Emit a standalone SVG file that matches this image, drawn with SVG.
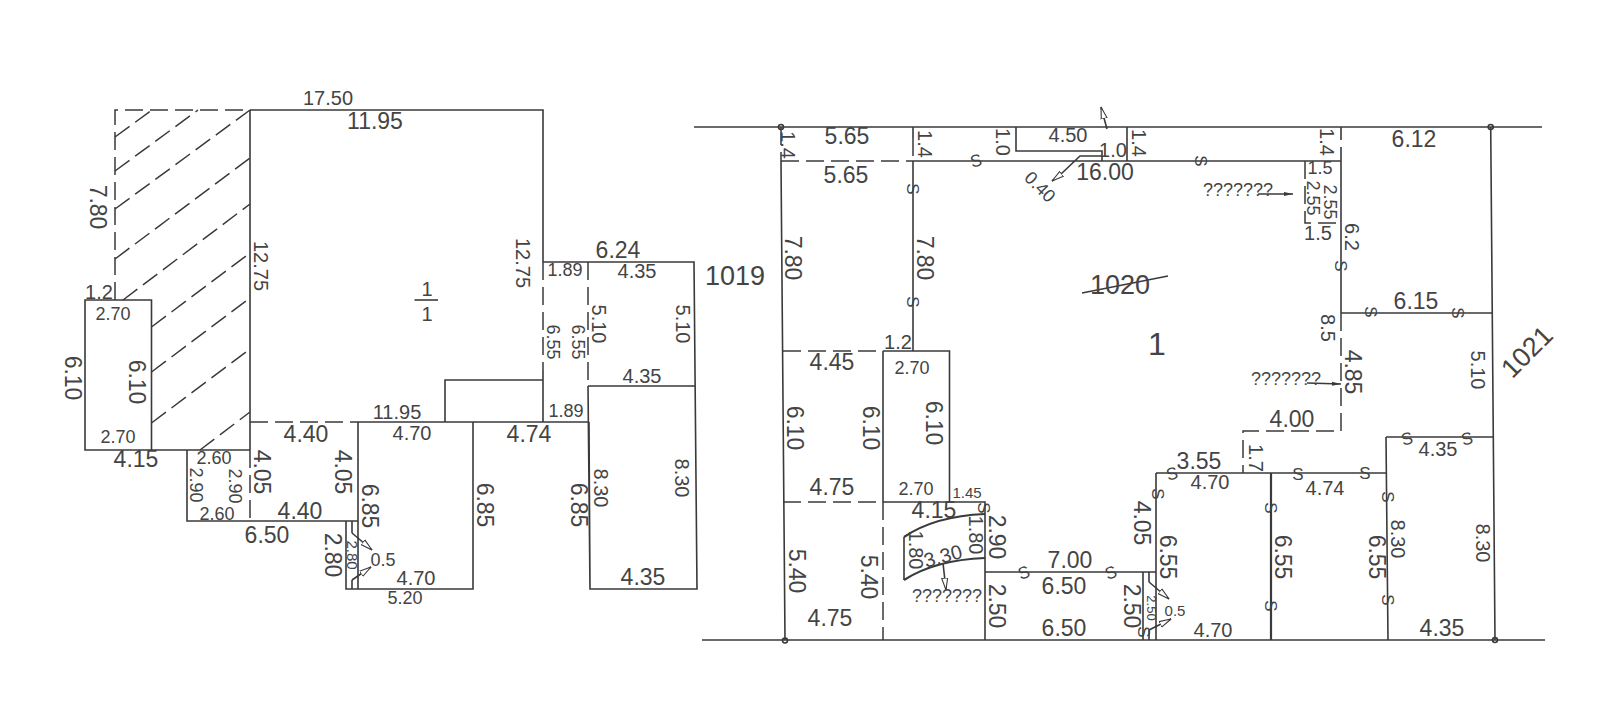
<svg xmlns="http://www.w3.org/2000/svg" width="1600" height="718" viewBox="0 0 1600 718">
<style>
text{font-family:"Liberation Sans",Arial,sans-serif;fill:#444;text-anchor:middle;dominant-baseline:central}
.a{font-size:23px}.b{font-size:20px}.c{font-size:18px}.d{font-size:15px}.s{font-size:17px}
.l{fill:none;stroke:#3a3a3a;stroke-width:1.6}
.h{fill:none;stroke:#3a3a3a;stroke-width:1.5;stroke-dasharray:18 7}
.k{fill:none;stroke:#3a3a3a;stroke-width:2.2}
</style>
<defs>
<marker id="open" markerWidth="14" markerHeight="8" refX="12" refY="4" orient="auto" markerUnits="userSpaceOnUse"><path d="M0 1L12 4L0 7Z" fill="#fff" stroke="#3a3a3a" stroke-width="1.1"/></marker>
<marker id="fill" markerWidth="10" markerHeight="6" refX="9" refY="3" orient="auto" markerUnits="userSpaceOnUse"><path d="M0 1L9 3L0 5Z" fill="#3a3a3a"/></marker>
</defs>
<g id="left-plan-lines">
<path class="l" d="M250 110H543V262M543 262H694L697 589H590L588 386M588 386H695M543 370V422M358 422H589M589 422L590 589M445 422V380H543M473 422V589H346V521M358 422V589M85 300H151.5V450H85ZM151.500 450H250M250 110V450M187 450V521H358M352 521V533M352 589V580"/>
<path class="h" d="M115 300V110H250M543 262V370M588 262V386M250 422H358M250 450V521"/>
<path class="h" d="M115 137L152 110M115 171L198 110M115 209L250 110M115 259L250 158M123 300L250 204M151.500 327L250 253M151.500 372L250 298M151.500 423L250 349M200 450L250 412"/>
<path class="l" d="M414.500 300H438"/>
<path class="l" marker-end="url(#open)" d="M352 533L372 550"/>
<path class="l" marker-end="url(#open)" d="M352 580L371 567"/>
</g>
<g id="left-plan-labels">
<text class="b" x="328" y="98">17.50</text>
<text class="a" x="375" y="121">11.95</text>
<text class="a" transform="translate(98 207) rotate(90)">7.80</text>
<text class="b" transform="translate(261 266) rotate(90)">12.75</text>
<text class="b" x="99" y="292">1.2</text>
<text class="c" x="113" y="314">2.70</text>
<text class="a" transform="translate(73 378) rotate(90)">6.10</text>
<text class="a" transform="translate(137 382) rotate(90)">6.10</text>
<text class="c" x="118" y="437">2.70</text>
<text class="a" x="136" y="459">4.15</text>
<text class="c" x="214" y="458">2.60</text>
<text class="c" transform="translate(196 485) rotate(90)">2.90</text>
<text class="c" transform="translate(235 486) rotate(90)">2.90</text>
<text class="a" transform="translate(262 472) rotate(90)">4.05</text>
<text class="a" transform="translate(343 472) rotate(90)">4.05</text>
<text class="a" x="306" y="434">4.40</text>
<text class="a" x="300" y="511">4.40</text>
<text class="c" x="217" y="514">2.60</text>
<text class="a" x="267" y="535">6.50</text>
<text class="a" transform="translate(370 506) rotate(90)">6.85</text>
<text class="a" transform="translate(333 555) rotate(90)">2.80</text>
<text class="d" transform="translate(352 555) rotate(90)">2.80</text>
<text class="c" x="383" y="560">0.5</text>
<text class="b" x="397" y="412">11.95</text>
<text class="b" x="412" y="433">4.70</text>
<text class="b" x="416" y="578">4.70</text>
<text class="c" x="405" y="598">5.20</text>
<text class="a" transform="translate(485 505) rotate(90)">6.85</text>
<text class="a" x="529" y="434">4.74</text>
<text class="c" x="566" y="411">1.89</text>
<text class="c" x="565" y="270">1.89</text>
<text class="a" x="618" y="250">6.24</text>
<text class="b" x="637" y="271">4.35</text>
<text class="b" transform="translate(599 324) rotate(90)">5.10</text>
<text class="b" transform="translate(683 324) rotate(90)">5.10</text>
<text class="c" transform="translate(553 342) rotate(90)">6.55</text>
<text class="c" transform="translate(578 342) rotate(90)">6.55</text>
<text class="b" x="642" y="376">4.35</text>
<text class="b" transform="translate(523 263) rotate(90)">12.75</text>
<text class="b" transform="translate(601 488) rotate(90)">8.30</text>
<text class="b" transform="translate(682 478) rotate(90)">8.30</text>
<text class="a" transform="translate(579 505) rotate(90)">6.85</text>
<text class="a" x="643" y="577">4.35</text>
<text x="735" y="276" font-size="27">1019</text>
<text class="b" x="427" y="289">1</text>
<text class="b" x="427" y="314">1</text>
</g>
<g id="right-plan-lines">
<path class="l" d="M694 127H1542M702 640H1545M781 161L785 640M913 161V351M913 127V138M913 161H1341M1016 127V151H1102V161M1102 156H1080L1060 175M1127 127V161M1341 127V140M1341 147V313M1341 313H1492M1490.700 127L1495 640M1386 437H1493M1386 437L1388 640M1156 473H1387M1156 473V640M985 572H1156M1143 572V640M883 351H949.500V502M883 351V502M883 502H985V640M904 537V580M1149 572V582M1149 640V630"/>
<path class="k" d="M1271 473V640M904 537Q935 516 985 514M904 580Q935 560 985 558"/>
<path class="h" d="M781 127V161M781 161H913M913 138V161M1305 161V223H1341M1341 313V431H1243V473M783 351H883M783 502H883M883 502V640"/>
<circle class="l" cx="781" cy="127" r="2.500"/><circle class="l" cx="1490.700" cy="127" r="2.500"/><circle class="l" cx="785" cy="640.500" r="2.500"/><circle class="l" cx="1495" cy="640" r="2.500"/>
<path class="l" d="M1082 293L1168 276"/>
<path class="l" marker-end="url(#open)" d="M1060 175L1052 181"/>
<path class="l" marker-end="url(#open)" d="M1107 129L1101 107"/>
<path class="l" marker-end="url(#open)" d="M943 563L946 590"/>
<path class="l" marker-end="url(#open)" d="M1149 582L1169 599"/>
<path class="l" marker-end="url(#open)" d="M1149 630L1171 619"/>
<path class="l" marker-end="url(#fill)" d="M1258 194H1293"/>
<path class="l" marker-end="url(#fill)" d="M1307 383L1341 384"/>
</g>
<g id="right-plan-labels">
<text class="b" transform="translate(788 145) rotate(90)">1.4</text>
<text class="a" x="847" y="136">5.65</text>
<text class="a" x="846" y="175">5.65</text>
<text class="b" transform="translate(925 144) rotate(90)">1.4</text>
<text class="b" transform="translate(1003 142) rotate(90)">1.0</text>
<text class="b" x="1068" y="135">4.50</text>
<text class="b" x="1113" y="150">1.0</text>
<text class="b" transform="translate(1139 143) rotate(90)">1.4</text>
<text class="a" x="1105" y="172">16.00</text>
<text class="c" transform="translate(1040 187) rotate(45)">0.40</text>
<text class="a" transform="translate(793 258) rotate(90)">7.80</text>
<text class="a" transform="translate(925 258) rotate(90)">7.80</text>
<text x="1120" y="285" font-size="27">1020</text>
<text x="1157" y="344" font-size="32">1</text>
<text class="a" x="1414" y="139">6.12</text>
<text class="b" transform="translate(1327 142) rotate(90)">1.4</text>
<text class="c" x="1320" y="168">1.5</text>
<text class="c" transform="translate(1330 202) rotate(90)">2.55</text>
<text class="c" transform="translate(1313 198) rotate(90)">2.55</text>
<text class="b" x="1318" y="233">1.5</text>
<text class="c" x="1238" y="190">???????</text>
<text class="b" transform="translate(1352 237) rotate(90)">6.2</text>
<text class="a" x="1416" y="301">6.15</text>
<text class="b" transform="translate(1328 328) rotate(90)">8.5</text>
<text class="a" transform="translate(1353 372) rotate(90)">4.85</text>
<text class="b" transform="translate(1478 370) rotate(90)">5.10</text>
<text font-size="27" transform="translate(1527 352) rotate(-45)">1021</text>
<text class="c" x="1286" y="379">???????</text>
<text class="a" x="1292" y="419">4.00</text>
<text class="b" transform="translate(1256 458) rotate(90)">1.7</text>
<text class="b" x="898" y="342">1.2</text>
<text class="a" x="832" y="362">4.45</text>
<text class="c" x="912" y="368">2.70</text>
<text class="a" transform="translate(795 428) rotate(90)">6.10</text>
<text class="a" transform="translate(871 428) rotate(90)">6.10</text>
<text class="a" transform="translate(934 423) rotate(90)">6.10</text>
<text class="a" x="832" y="487">4.75</text>
<text class="c" x="916" y="489">2.70</text>
<text class="d" x="967" y="492">1.45</text>
<text class="a" x="934" y="510">4.15</text>
<text class="a" transform="translate(997 537) rotate(90)">2.90</text>
<text class="b" transform="translate(976 535) rotate(90)">1.80</text>
<text class="b" transform="translate(916 550) rotate(90)">1.80</text>
<text class="b" transform="translate(943 556) rotate(-15)">3.30</text>
<text class="a" transform="translate(797 571) rotate(90)">5.40</text>
<text class="a" transform="translate(869 577) rotate(90)">5.40</text>
<text class="c" x="947" y="596">???????</text>
<text class="a" transform="translate(997 606) rotate(90)">2.50</text>
<text class="a" x="830" y="618">4.75</text>
<text class="a" x="1199" y="461">3.55</text>
<text class="b" x="1210" y="482">4.70</text>
<text class="a" transform="translate(1142 523) rotate(90)">4.05</text>
<text class="a" transform="translate(1168 557) rotate(90)">6.55</text>
<text class="a" x="1070" y="560">7.00</text>
<text class="a" x="1064" y="586">6.50</text>
<text class="a" transform="translate(1132 606) rotate(90)">2.50</text>
<text font-size="13" transform="translate(1151 608) rotate(90)">2.50</text>
<text class="d" x="1175" y="610">0.5</text>
<text class="a" x="1064" y="628">6.50</text>
<text class="b" x="1213" y="630">4.70</text>
<text class="a" transform="translate(1283 557) rotate(90)">6.55</text>
<text class="b" x="1325" y="488">4.74</text>
<text class="b" x="1438" y="449">4.35</text>
<text class="b" transform="translate(1398 539) rotate(90)">8.30</text>
<text class="a" transform="translate(1377 557) rotate(90)">6.55</text>
<text class="b" transform="translate(1483 543) rotate(90)">8.30</text>
<text class="a" x="1442" y="628">4.35</text>
</g>
<g id="fence-marks">
<text class="s" transform="translate(976 161) rotate(-15)">S</text>
<text class="s" transform="translate(912 189) rotate(90)">S</text>
<text class="s" transform="translate(912 302) rotate(90)">S</text>
<text class="s" transform="translate(1200 161) rotate(90)">S</text>
<text class="s" transform="translate(1340 266) rotate(90)">S</text>
<text class="s" transform="translate(1370 312) rotate(90)">S</text>
<text class="s" transform="translate(1457 313) rotate(90)">S</text>
<text class="s" transform="translate(983 508) rotate(90)">S</text>
<text class="s" transform="translate(1172 474) rotate(-15)">S</text>
<text class="s" transform="translate(1157 494) rotate(90)">S</text>
<text class="s" transform="translate(1024 573) rotate(-20)">S</text>
<text class="s" transform="translate(1111 573) rotate(-20)">S</text>
<text class="s" transform="translate(1143 632) rotate(90)">S</text>
<text class="s" transform="translate(1270 508) rotate(90)">S</text>
<text class="s" transform="translate(1270 606) rotate(90)">S</text>
<text class="s" x="1298" y="474">S</text>
<text class="s" x="1365" y="473">S</text>
<text class="s" transform="translate(1407 439) rotate(-15)">S</text>
<text class="s" transform="translate(1467 439) rotate(-15)">S</text>
<text class="s" transform="translate(1387 497) rotate(90)">S</text>
<text class="s" transform="translate(1387 600) rotate(90)">S</text>
</g>
</svg>
